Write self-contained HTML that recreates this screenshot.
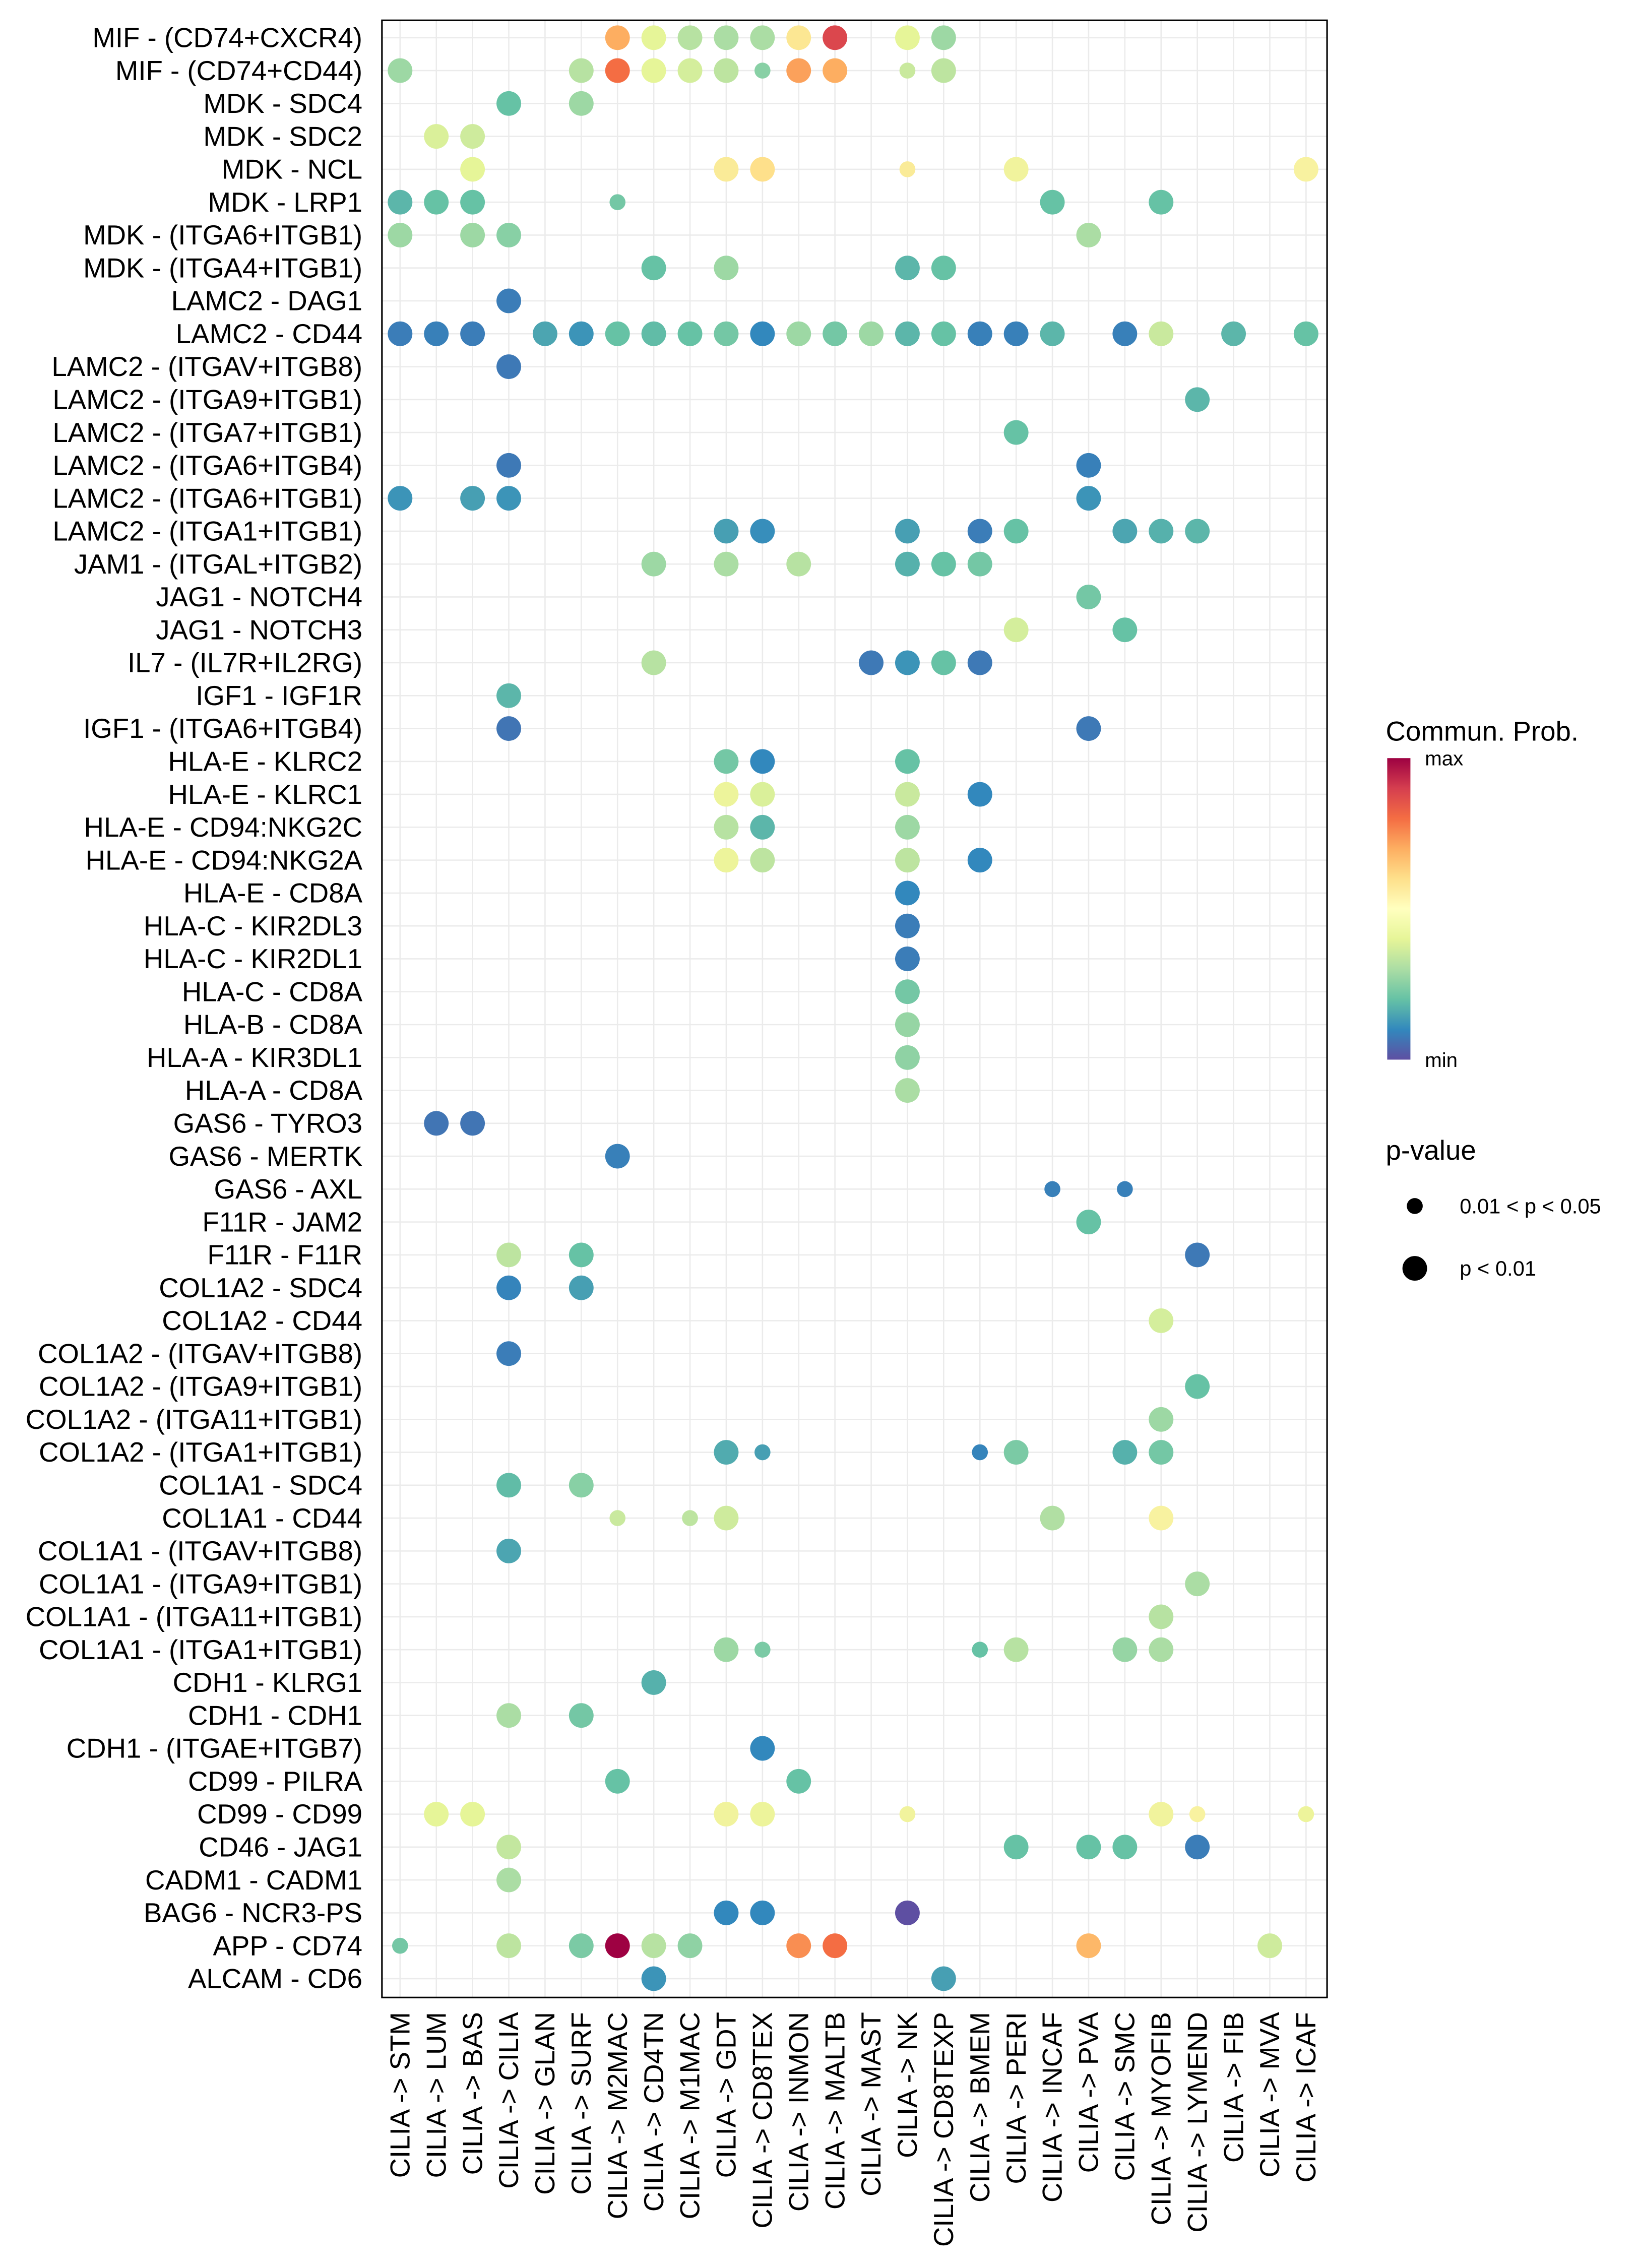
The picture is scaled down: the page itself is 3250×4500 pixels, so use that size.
<!DOCTYPE html>
<html><head><meta charset="utf-8">
<style>
html,body{margin:0;padding:0;background:#fff;}
svg{display:block;}
text{font-family:"Liberation Sans",Arial,sans-serif;fill:#000;}
</style></head>
<body>
<svg id="chart" width="3250" height="4500" viewBox="0 0 1130 1564.6" xmlns="http://www.w3.org/2000/svg">
<defs>
<linearGradient id="cbar" x1="0" y1="1" x2="0" y2="0">
<stop offset="0" stop-color="#5E4FA2"/><stop offset="0.1" stop-color="#3288BD"/><stop offset="0.2" stop-color="#66C2A5"/><stop offset="0.3" stop-color="#ABDDA4"/><stop offset="0.4" stop-color="#E6F598"/><stop offset="0.5" stop-color="#FFFFBF"/><stop offset="0.6" stop-color="#FEE08B"/><stop offset="0.7" stop-color="#FDAE61"/><stop offset="0.8" stop-color="#F46D43"/><stop offset="0.9" stop-color="#D53E4F"/><stop offset="1" stop-color="#9E0142"/>
</linearGradient>
</defs>
<rect x="263.5" y="14" width="652" height="1364" fill="#fff"/>
<g id="grid"></g>
<g id="dots"></g>
<rect x="263.5" y="14" width="652" height="1364" fill="none" stroke="#000" stroke-width="1.1"/>
<g id="ylabels"></g>
<g id="xlabels"></g>
<g>
<text x="956" y="511" font-size="19">Commun. Prob.</text>
<rect x="957" y="523" width="16" height="208" fill="url(#cbar)"/>
<text x="983" y="528" font-size="14">max</text>
<text x="983" y="736" font-size="14">min</text>
<text x="956" y="800" font-size="19">p-value</text>
<circle cx="976" cy="832" r="5.5" fill="#000"/>
<text x="1007" y="837" font-size="14.5">0.01 &lt; p &lt; 0.05</text>
<circle cx="976" cy="875" r="8.5" fill="#000"/>
<text x="1007" y="880" font-size="14.5">p &lt; 0.01</text>
</g>
</svg>
<script>
const rowLabels = ["MIF - (CD74+CXCR4)","MIF - (CD74+CD44)","MDK - SDC4","MDK - SDC2","MDK - NCL","MDK - LRP1","MDK - (ITGA6+ITGB1)","MDK - (ITGA4+ITGB1)","LAMC2 - DAG1","LAMC2 - CD44","LAMC2 - (ITGAV+ITGB8)","LAMC2 - (ITGA9+ITGB1)","LAMC2 - (ITGA7+ITGB1)","LAMC2 - (ITGA6+ITGB4)","LAMC2 - (ITGA6+ITGB1)","LAMC2 - (ITGA1+ITGB1)","JAM1 - (ITGAL+ITGB2)","JAG1 - NOTCH4","JAG1 - NOTCH3","IL7 - (IL7R+IL2RG)","IGF1 - IGF1R","IGF1 - (ITGA6+ITGB4)","HLA-E - KLRC2","HLA-E - KLRC1","HLA-E - CD94:NKG2C","HLA-E - CD94:NKG2A","HLA-E - CD8A","HLA-C - KIR2DL3","HLA-C - KIR2DL1","HLA-C - CD8A","HLA-B - CD8A","HLA-A - KIR3DL1","HLA-A - CD8A","GAS6 - TYRO3","GAS6 - MERTK","GAS6 - AXL","F11R - JAM2","F11R - F11R","COL1A2 - SDC4","COL1A2 - CD44","COL1A2 - (ITGAV+ITGB8)","COL1A2 - (ITGA9+ITGB1)","COL1A2 - (ITGA11+ITGB1)","COL1A2 - (ITGA1+ITGB1)","COL1A1 - SDC4","COL1A1 - CD44","COL1A1 - (ITGAV+ITGB8)","COL1A1 - (ITGA9+ITGB1)","COL1A1 - (ITGA11+ITGB1)","COL1A1 - (ITGA1+ITGB1)","CDH1 - KLRG1","CDH1 - CDH1","CDH1 - (ITGAE+ITGB7)","CD99 - PILRA","CD99 - CD99","CD46 - JAG1","CADM1 - CADM1","BAG6 - NCR3-PS","APP - CD74","ALCAM - CD6"];
const colLabels = ["STM","LUM","BAS","CILIA","GLAN","SURF","M2MAC","CD4TN","M1MAC","GDT","CD8TEX","INMON","MALTB","MAST","NK","CD8TEXP","BMEM","PERI","INCAF","PVA","SMC","MYOFIB","LYMEND","FIB","MVA","ICAF"];
// [rowIndex, colIndex, probability(0-1 relative), smallP (1 = 0.01<p<0.05)]
const dots = [
[0,6,.7,0],[0,7,.5,0],[0,8,.42,0],[0,9,.4,0],[0,10,.4,0],[0,11,.58,0],[0,12,.88,0],[0,14,.5,0],[0,15,.38,0],
[1,0,.38,0],[1,5,.42,0],[1,6,.8,0],[1,7,.5,0],[1,8,.47,0],[1,9,.43,0],[1,10,.35,1],[1,11,.72,0],[1,12,.7,0],[1,14,.45,1],[1,15,.43,0],
[2,3,.3,0],[2,5,.38,0],
[3,1,.48,0],[3,2,.46,0],
[4,2,.5,0],[4,9,.57,0],[4,10,.6,0],[4,14,.57,1],[4,17,.53,0],[4,25,.55,0],
[5,0,.28,0],[5,1,.3,0],[5,2,.3,0],[5,6,.32,1],[5,18,.3,0],[5,21,.3,0],
[6,0,.38,0],[6,2,.38,0],[6,3,.35,0],[6,19,.4,0],
[7,7,.3,0],[7,9,.38,0],[7,14,.28,0],[7,15,.3,0],
[8,3,.17,0],
[9,0,.17,0],[9,1,.18,0],[9,2,.17,0],[9,4,.25,0],[9,5,.22,0],[9,6,.3,0],[9,7,.29,0],[9,8,.3,0],[9,9,.32,0],[9,10,.2,0],[9,11,.38,0],[9,12,.32,0],[9,13,.38,0],[9,14,.28,0],[9,15,.3,0],[9,16,.18,0],[9,17,.18,0],[9,18,.28,0],[9,20,.18,0],[9,21,.45,0],[9,23,.28,0],[9,25,.3,0],
[10,3,.16,0],
[11,22,.28,0],
[12,17,.3,0],
[13,3,.16,0],[13,19,.18,0],
[14,0,.22,0],[14,2,.24,0],[14,3,.22,0],[14,19,.22,0],
[15,9,.24,0],[15,10,.21,0],[15,14,.24,0],[15,16,.17,0],[15,17,.3,0],[15,20,.25,0],[15,21,.27,0],[15,22,.28,0],
[16,7,.38,0],[16,9,.4,0],[16,11,.42,0],[16,14,.27,0],[16,15,.3,0],[16,16,.32,0],
[17,19,.32,0],
[18,17,.47,0],[18,20,.3,0],
[19,7,.42,0],[19,13,.16,0],[19,14,.22,0],[19,15,.3,0],[19,16,.16,0],
[20,3,.28,0],
[21,3,.15,0],[21,19,.16,0],
[22,9,.32,0],[22,10,.2,0],[22,14,.3,0],
[23,9,.52,0],[23,10,.48,0],[23,14,.45,0],[23,16,.2,0],
[24,9,.42,0],[24,10,.28,0],[24,14,.38,0],
[25,9,.52,0],[25,10,.43,0],[25,14,.43,0],[25,16,.2,0],
[26,14,.2,0],[27,14,.17,0],[28,14,.17,0],[29,14,.32,0],[30,14,.37,0],[31,14,.36,0],[32,14,.4,0],
[33,1,.15,0],[33,2,.15,0],
[34,6,.18,0],
[35,18,.18,1],[35,20,.18,1],
[36,19,.3,0],
[37,3,.43,0],[37,5,.3,0],[37,22,.16,0],
[38,3,.19,0],[38,5,.24,0],
[39,21,.47,0],
[40,3,.17,0],
[41,22,.3,0],
[42,21,.38,0],
[43,9,.26,0],[43,10,.24,1],[43,16,.19,1],[43,17,.33,0],[43,20,.27,0],[43,21,.32,0],
[44,3,.29,0],[44,5,.35,0],
[45,6,.45,1],[45,8,.43,1],[45,9,.46,0],[45,18,.41,0],[45,21,.55,0],
[46,3,.25,0],
[47,22,.4,0],
[48,21,.42,0],
[49,9,.38,0],[49,10,.33,1],[49,16,.3,1],[49,17,.42,0],[49,20,.37,0],[49,21,.4,0],
[50,7,.27,0],
[51,3,.4,0],[51,5,.32,0],
[52,10,.2,0],
[53,6,.3,0],[53,11,.3,0],
[54,1,.5,0],[54,2,.5,0],[54,9,.53,0],[54,10,.52,0],[54,14,.53,1],[54,21,.53,0],[54,22,.55,1],[54,25,.52,1],
[55,3,.44,0],[55,17,.3,0],[55,19,.3,0],[55,20,.3,0],[55,22,.17,0],
[56,3,.4,0],
[57,9,.2,0],[57,10,.2,0],[57,14,.05,0],
[58,0,.32,1],[58,3,.43,0],[58,5,.33,0],[58,6,1.0,0],[58,7,.42,0],[58,8,.36,0],[58,11,.75,0],[58,12,.8,0],[58,19,.68,0],[58,24,.46,0],
[59,7,.22,0],[59,15,.24,0]
];
const NS="http://www.w3.org/2000/svg";
const X0=276, DX=25, Y0=26, DY=(1365-26)/59;
function xPos(c){return X0+c*DX;}
function yPos(r){return Y0+r*DY;}
const stopPos=[0.05,0.2,0.3,0.4,0.5,0.55,0.6,0.7,0.8,0.9,1.0];
const stopCol=["#5E4FA2","#3288BD","#66C2A5","#ABDDA4","#E6F598","#F8F2A0","#FEE08B","#FDAE61","#F46D43","#D53E4F","#9E0142"];
function hex(h){return [1,3,5].map(i=>parseInt(h.substr(i,2),16));}
function color(v){
  if(v<=stopPos[0])return stopCol[0];
  for(let i=1;i<stopPos.length;i++){
    if(v<=stopPos[i]){
      const t=(v-stopPos[i-1])/(stopPos[i]-stopPos[i-1]);
      const a=hex(stopCol[i-1]),b=hex(stopCol[i]);
      return "rgb("+a.map((x,k)=>Math.round(x+(b[k]-x)*t)).join(",")+")";
    }
  }
  return stopCol[stopCol.length-1];
}
const grid=document.getElementById("grid");
rowLabels.forEach((lab,r)=>{
  const l=document.createElementNS(NS,"line");
  l.setAttribute("x1",263.5);l.setAttribute("x2",915.5);l.setAttribute("y1",yPos(r));l.setAttribute("y2",yPos(r));
  l.setAttribute("stroke","#EBEBEB");l.setAttribute("stroke-width","0.9");
  
  
  grid.appendChild(l);
  const t=document.createElementNS(NS,"text");
  t.setAttribute("x",250);t.setAttribute("y",yPos(r)+6.5);t.setAttribute("text-anchor","end");t.setAttribute("font-size","19");
  t.textContent=lab;
  
  
  document.getElementById("ylabels").appendChild(t);
});
colLabels.forEach((lab,c)=>{
  const l=document.createElementNS(NS,"line");
  l.setAttribute("x1",xPos(c));l.setAttribute("x2",xPos(c));l.setAttribute("y1",14);l.setAttribute("y2",1378);
  l.setAttribute("stroke","#EBEBEB");l.setAttribute("stroke-width","0.9");
  
  
  grid.appendChild(l);
  const t=document.createElementNS(NS,"text");
  const x=xPos(c)+6.5, y=1388;
  t.setAttribute("transform","translate("+x+","+y+") rotate(-90)");
  t.setAttribute("text-anchor","end");t.setAttribute("font-size","19");
  t.textContent="CILIA -> "+lab;
  
  
  document.getElementById("xlabels").appendChild(t);
});
const dg=document.getElementById("dots");
dots.forEach(d=>{
  const c=document.createElementNS(NS,"circle");
  c.setAttribute("cx",xPos(d[1]));c.setAttribute("cy",yPos(d[0]));
  c.setAttribute("r",d[3]?5.5:8.5);
  c.setAttribute("fill",color(d[2]));
  
  
  dg.appendChild(c);
});
</script>
</body></html>
